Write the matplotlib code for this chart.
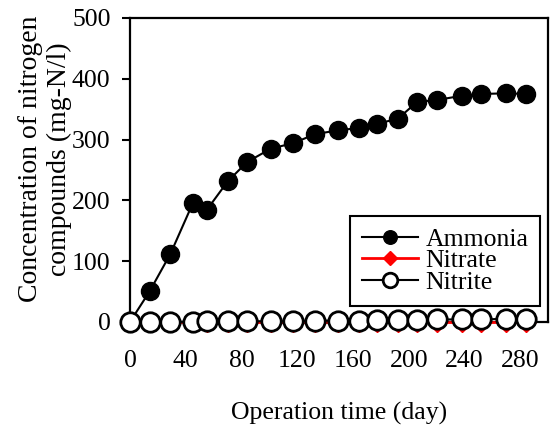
import matplotlib
matplotlib.use("Agg")
import matplotlib.pyplot as plt

# values
days = [0, 14, 29, 45, 55, 70, 84, 101, 117, 133, 149, 164, 177, 192,
        206, 220, 238, 252, 270, 284]
ammonia = [0, 50, 112, 195, 184, 231, 263, 285, 294, 309, 315, 319, 326, 334,
           362, 365, 372, 375, 376, 375]
nitrate = [0] * len(days)
nitrite = [0, 0, 0, 0, 1, 1, 1, 1, 1, 2, 2, 2, 3, 3, 3, 4, 4, 4, 5, 5]

x_ticks = [0, 40, 80, 120, 160, 200, 240, 280]
y_ticks = [0, 100, 200, 300, 400, 500]

plt.rcParams["font.family"] = ["Liberation Serif", "DejaVu Serif"]
plt.rcParams["font.size"] = 18.5

fig = plt.figure(figsize=(5.51, 4.28), dpi=100)
ax = fig.add_axes([0.236, 0.248, 0.759, 0.710])

ax.plot(days, ammonia, color="black", lw=1.5, marker="o", ms=13,
        mfc="black", mec="black", label="Ammonia", clip_on=False, zorder=3)
ax.plot(days, nitrate, color="red", lw=2.0, marker="D", ms=10,
        mfc="red", mec="red", label="Nitrate", clip_on=False, zorder=4)
ax.plot(days, nitrite, color="black", lw=1.5, marker="o", ms=14,
        mfc="white", mec="black", mew=2.0, label="Nitrite", clip_on=False,
        zorder=5)

ax.set_xlim(0, 300)
ax.set_ylim(0, 500)
ax.set_xticks(x_ticks)
ax.set_yticks(y_ticks)
ax.tick_params(axis="x", length=0, pad=20)
ax.tick_params(axis="y", direction="out", length=6, width=1.5, pad=8)
for sp in ax.spines.values():
    sp.set_linewidth(1.6)

ax.set_ylabel("Concentration of nitrogen\ncompounds (mg-N/l)",
              fontsize=20, linespacing=1.2)
ax.yaxis.set_label_coords(-0.139, 0.536)
ax.set_xlabel("Operation time (day)")
ax.xaxis.set_label_coords(0.5, -0.265)

leg = ax.legend(loc="lower right", bbox_to_anchor=(0.981, 0.053),
                fancybox=False, framealpha=1, edgecolor="black",
                handlelength=2.2, handletextpad=0.3, labelspacing=-0.05,
                borderpad=0.45, borderaxespad=0, markerscale=0.75)
leg.get_frame().set_linewidth(1.5)

fig.savefig("out.png", dpi=100)
